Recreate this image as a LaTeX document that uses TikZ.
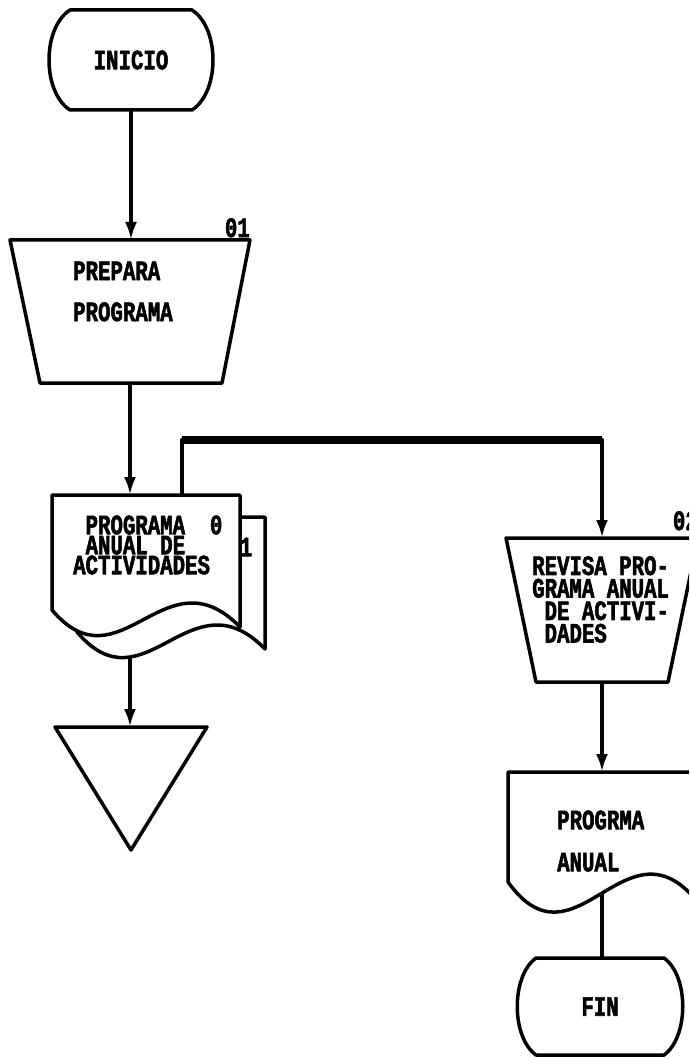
\documentclass[tikz,border=0pt]{standalone}
\usepackage{fontspec}
\usepackage{tikz}
\usetikzlibrary{arrows.meta,calc,positioning}
\newfontfamily\chartfont[FakeStretch=0.74,FakeBold=2]{Liberation Mono}

\begin{document}
\begin{tikzpicture}[x=1pt,y=-1pt,line join=round,
  slot/.style={inner sep=0pt,outer sep=0pt},
  outline/.style={line width=3.5pt},
  flow/.style={line width=4.5pt,-{Latex[length=18pt,width=12pt]}},
  chart/.style={font=\chartfont\bfseries\fontsize{28}{#1}\selectfont,inner sep=0pt,align=left},
  chart/.default=20]
 \useasboundingbox (0,0) rectangle (689,1059);
 \clip (0,0) rectangle (689,1059);

 \node[slot,chart,minimum width=122pt,minimum height=100pt] (inicio) at (131,60) {INICIO};
 \draw[outline] (inicio.north west) -- (inicio.north east)
   .. controls +(28,18) and +(28,-18) .. (inicio.south east) -- (inicio.south west)
   .. controls +(-28,-18) and +(-28,18) .. cycle;

 \node[slot,minimum width=240pt,minimum height=143pt] (prep) at (130,311.5) {};
 \draw[outline] (prep.north west) -- (prep.north east) -- ($(prep.south east)+(-28,0)$)
   -- ($(prep.south west)+(30,0)$) -- cycle;
 \node[chart=41,anchor=west] (prep-t) at (73,291.5) {PREPARA\\PROGRAMA};
 \node[chart,anchor=base east] (n01) at ($(prep.north east)+(0,-3)$) {01};

 \draw[outline,fill=white] (77,517) -- (265,517) -- (265,649)
   .. controls (190,572) and (145,712) .. (77,632) -- cycle;
 \node[chart] (n1) at (246,547) {1};
 \node[slot,minimum width=188pt,minimum height=115pt] (doc) at (146,552.5) {};
 \draw[outline,fill=white] (doc.south west) -- (doc.north west) -- (doc.north east)
   -- ($(doc.south east)+(0,17)$) .. controls +(-75,-77) and +(68,80) .. (doc.south west) -- cycle;
 \node[chart,anchor=west] (doc-t) at (73,545) {~PROGRAMA~~0\\~ANUAL~DE\\ACTIVIDADES};
 \coordinate (docend) at (130,658);

 \node[slot,minimum width=152pt,minimum height=123pt] (store) at (131,788.5) {};
 \draw[outline] (store.north west) -- (store.north east) -- (store.south) -- cycle;

 \node[slot,minimum width=192pt,minimum height=144pt] (rev) at (602,610) {};
 \draw[outline] (rev.north west) -- (rev.north east) -- ($(rev.south east)+(-30,0)$)
   -- ($(rev.south west)+(30,0)$) -- cycle;
 \node[chart=22.5,anchor=west] (rev-t) at (532,599.5) {REVISA~PRO-\\GRAMA~ANUAL\\~DE~ACTIVI-\\~DADES};
 \node[chart,anchor=base east] (n02) at ($(rev.north east)+(0,-8)$) {02};

 \node[slot,minimum width=188pt,minimum height=110pt] (prog) at (602,827) {};
 \draw[outline,fill=white] (prog.south west) -- (prog.north west) -- (prog.north east)
   -- ($(prog.south east)+(0,18)$) .. controls +(-71,-85) and +(67,93) .. (prog.south west) -- cycle;
 \node[chart=42,anchor=west] (prog-t) at (557,841) {PROGRMA\\ANUAL};
 \coordinate (progend) at (602,894);

 \node[slot,chart,minimum width=128pt,minimum height=97pt] (fin) at (600,1006.5) {FIN};
 \draw[outline] (fin.north west) -- (fin.north east)
   .. controls +(25,18) and +(25,-18) .. (fin.south east) -- (fin.south west)
   .. controls +(-25,-18) and +(-25,18) .. cycle;

 \draw[flow] (inicio.south) -- (inicio.south |- prep.north);
 \draw[flow] (prep.south) -- (prep.south |- doc.north);
 \coordinate (up) at ($(doc.north)+(36,0)$);
 \coordinate (turn) at ($(up)+(0,-55)$);
 \draw[flow] (up) -- (turn) -| (rev.north);
 \draw[line width=8pt] (turn) -- (turn -| rev.north);
 \draw[flow] (rev.south) -- (prog.north);
 \draw[flow] (docend) -- (docend |- store.north);
 \draw[line width=4.5pt] (progend) -- (progend |- fin.north);
\end{tikzpicture}
\end{document}
